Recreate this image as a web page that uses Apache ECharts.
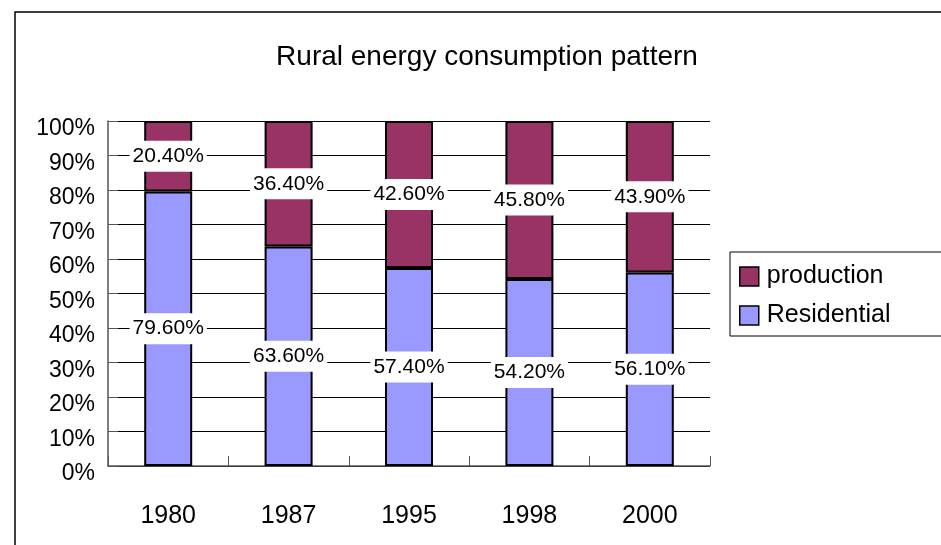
<!DOCTYPE html>
<html>
<head>
<meta charset="utf-8">
<script src="https://cdn.jsdelivr.net/npm/echarts@6/dist/echarts.min.js"></script>
<style>
  html, body { margin: 0; padding: 0; background: #fff; }
  #chart { width: 941px; height: 545px; }
</style>
</head>
<body>
<div id="chart"></div>
<script>
// 数据
const years = ['1980', '1987', '1995', '1998', '2000'];
const residential = [79.6, 63.6, 57.4, 54.2, 56.1];
const production = [20.4, 36.4, 42.6, 45.8, 43.9];
const yTicks = [0, 10, 20, 30, 40, 50, 60, 70, 80, 90, 100];

const FONT = 'Liberation Sans, Arial, sans-serif';

const barLabel = {
    show: true,
    position: 'inside',
    formatter: p => p.value.toFixed(2) + '%',
    color: '#000',
    fontFamily: FONT,
    fontSize: 21,
    backgroundColor: '#fff',
    padding: [6, 3, 4, 3]
};

const chart = echarts.init(document.getElementById('chart'), null, {renderer: 'canvas'});

chart.setOption({
    animation: false,
    backgroundColor: '#fff',
    graphic: [{
        type: 'rect',
        shape: {x: 15, y: 12, width: 1000, height: 600},
        style: {fill: 'none', stroke: '#000', lineWidth: 1.5},
        z: -1
    }],
    title: {
        text: 'Rural energy consumption pattern',
        left: 482,
        top: 38,
        textAlign: 'center',
        textStyle: {fontFamily: FONT, fontSize: 28, fontWeight: 'normal', color: '#000'}
    },
    legend: {
        data: ['production', 'Residential'],
        orient: 'vertical',
        icon: 'rect',
        left: 730,
        top: 252,
        padding: [12, 80, 8, 9],
        itemGap: 14,
        itemWidth: 19,
        itemHeight: 19,
        borderColor: '#000',
        borderWidth: 1,
        itemStyle: {borderColor: '#000', borderWidth: 1.5},
        textStyle: {fontFamily: FONT, fontSize: 25, color: '#000', padding: [8, 0, 0, 3]}
    },
    grid: {left: 108, right: 231, top: 121, bottom: 79},
    xAxis: {
        type: 'category',
        data: years,
        axisLine: {lineStyle: {color: '#555', width: 1.5}},
        axisTick: {show: true, inside: true, length: 10, lineStyle: {color: '#555'}},
        axisLabel: {fontFamily: FONT, fontSize: 25, color: '#000', margin: 38}
    },
    yAxis: {
        type: 'value',
        min: yTicks[0],
        max: yTicks[yTicks.length - 1],
        interval: 10,
        axisLine: {show: true, lineStyle: {color: '#555', width: 1.5}},
        axisTick: {show: true, inside: true, length: 10, lineStyle: {color: '#555'}},
        axisLabel: {
            formatter: '{value}%',
            fontFamily: FONT,
            fontSize: 23,
            color: '#000',
            margin: 13,
            verticalAlign: 'top',
            lineHeight: 16
        },
        splitLine: {lineStyle: {color: '#000', width: 1}}
    },
    series: [{
        name: 'Residential',
        type: 'bar',
        stack: 'total',
        barWidth: 48,
        data: residential,
        itemStyle: {color: '#9999FF', borderColor: '#000', borderWidth: 2},
        label: barLabel
    }, {
        name: 'production',
        type: 'bar',
        stack: 'total',
        barWidth: 48,
        data: production,
        itemStyle: {color: '#993366', borderColor: '#000', borderWidth: 2},
        label: barLabel
    }]
});
</script>
</body>
</html>
